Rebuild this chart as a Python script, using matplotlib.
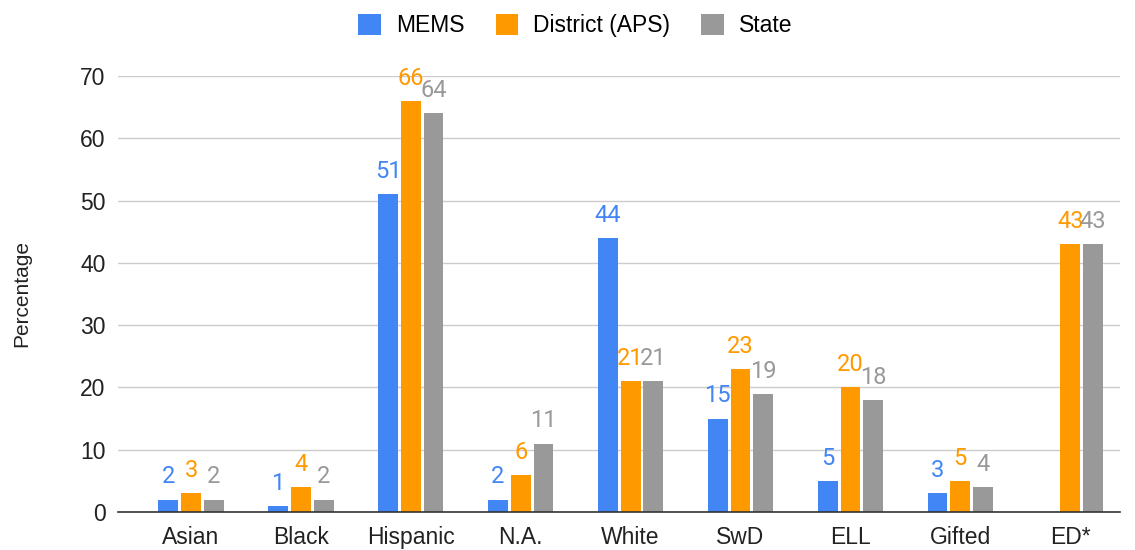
import numpy as np
import matplotlib
matplotlib.use("Agg")
import matplotlib.pyplot as plt

categories = ["Asian", "Black", "Hispanic", "N.A.", "White", "SwD", "ELL", "Gifted", "ED*"]
mems = [2, 1, 51, 2, 44, 15, 5, 3, None]
district = [3, 4, 66, 6, 21, 23, 20, 5, 43]
state = [2, 2, 64, 11, 21, 19, 18, 4, 43]

series = [("MEMS", mems, "#4285F4"),
          ("District (APS)", district, "#FF9900"),
          ("State", state, "#999999")]

plt.rcParams['font.family'] = ['Liberation Sans', 'DejaVu Sans']

fig = plt.figure(figsize=(11.35, 5.5), dpi=100)
ax = fig.add_axes([0.104, 0.069, 0.883, 0.793])

x = np.arange(len(categories))
width = 0.18
offsets = [-0.207, 0, 0.207]

for (name, vals, color), off in zip(series, offsets):
    hv = [v if v is not None else 0 for v in vals]
    ax.bar(x + off, hv, width, color=color, label=name, zorder=3)
    for xi, v in zip(x + off, vals):
        if v is None:
            continue
        ax.annotate(str(v), (xi, v), xytext=(0, 8), textcoords="offset points",
                    ha="center", va="bottom", color=color, fontsize=17,
                    family=["Roboto", "DejaVu Sans"], annotation_clip=False)

ax.set_xlim(-0.664, len(categories) - 0.545)
ax.set_ylim(0, 70)
ax.set_yticks(range(0, 71, 10))
ax.set_xticks(x)
ax.set_xticklabels(categories)
ax.tick_params(axis="both", length=0, labelsize=16.5, colors="#222222")
ax.tick_params(axis="x", pad=10)
ax.tick_params(axis="y", pad=9)
ax.grid(axis="y", color="#cccccc", linewidth=1, zorder=0)
for s in ["top", "right", "left"]:
    ax.spines[s].set_visible(False)
ax.spines["bottom"].set_color("#333333")
ax.spines["bottom"].set_linewidth(1.2)
ax.spines["bottom"].set_zorder(4)
ax.set_ylabel("Percentage", fontsize=15, color="#222222", labelpad=35)

fig.legend(loc="upper center", bbox_to_anchor=(0.507, 1.012), ncol=3, frameon=False,
           fontsize=16.5, handlelength=1.0, handleheight=1.0, columnspacing=1.35,
           handletextpad=0.65)

plt.savefig("out.png", dpi=100)
